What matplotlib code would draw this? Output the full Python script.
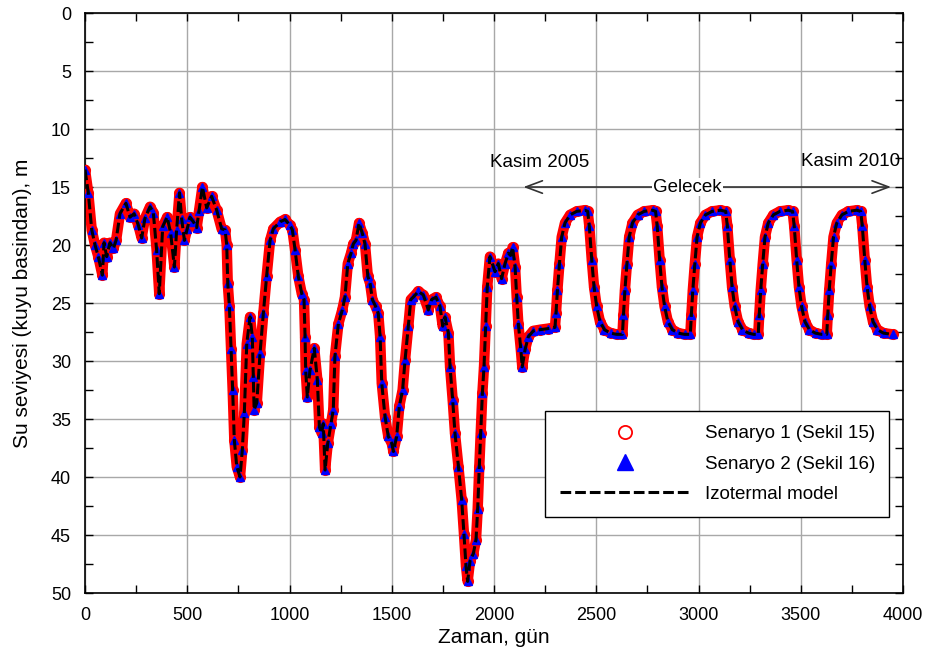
import numpy as np
import matplotlib
matplotlib.use('Agg')
import matplotlib.pyplot as plt
from matplotlib.lines import Line2D
from matplotlib.ticker import MultipleLocator

plt.rcParams['font.family'] = ['Liberation Sans', 'DejaVu Sans']

# Gozlem donemi (gun, su seviyesi m)
gun_gecmis = [0, 16, 33, 49, 65, 85, 93, 106, 122, 139, 152, 171, 200, 220, 240, 261,
              277, 293, 318, 334, 350, 363, 380, 402, 419, 437, 448, 462, 473, 486, 500,
              513, 530, 546, 557, 574, 595, 619, 644, 668, 685, 693, 698, 706, 714, 722,
              730, 742, 758, 769, 779, 791, 807, 818, 823, 827, 840, 856, 872, 888, 905,
              921, 954, 978, 1002, 1014, 1027, 1043, 1060, 1071, 1076, 1079, 1087, 1100,
              1121, 1136, 1146, 1157, 1165, 1174, 1187, 1203, 1214, 1222, 1239, 1258,
              1271, 1285, 1301, 1312, 1325, 1340, 1356, 1369, 1383, 1394, 1405, 1421,
              1434, 1443, 1451, 1467, 1483, 1500, 1508, 1524, 1537, 1553, 1565, 1581,
              1593, 1605, 1630, 1654, 1679, 1695, 1716, 1736, 1749, 1760, 1777, 1785,
              1798, 1809, 1826, 1842, 1853, 1863, 1871, 1883, 1899, 1912, 1920, 1928,
              1935, 1943, 1951, 1959, 1967, 1980, 1997, 2005, 2021, 2037, 2054, 2070,
              2081, 2091, 2103, 2111, 2119, 2130, 2138, 2152, 2168, 2192, 2225, 2266]
seviye_gecmis = [13.5, 15.5, 18.7, 20.0, 21.0, 22.6, 19.8, 21.0, 19.8, 20.3, 19.6, 17.3,
                 16.4, 17.6, 17.3, 18.3, 19.4, 17.7, 16.7, 17.2, 20.4, 24.2, 18.4, 17.6,
                 19.0, 21.9, 18.7, 15.5, 17.8, 19.6, 18.6, 17.6, 18.0, 18.5, 17.1, 15.0,
                 16.8, 15.8, 17.0, 18.6, 18.7, 20.0, 23.3, 25.3, 29.0, 32.5, 36.8, 39.1,
                 40.0, 37.7, 34.5, 28.5, 26.2, 27.9, 31.4, 34.2, 33.6, 29.3, 25.9, 22.7,
                 19.6, 18.6, 18.0, 17.8, 18.3, 18.7, 20.4, 22.7, 24.2, 24.7, 27.9, 30.8,
                 33.1, 30.8, 28.9, 31.6, 35.7, 36.2, 35.4, 39.4, 37.1, 35.4, 34.2, 29.6,
                 26.8, 25.6, 24.5, 21.6, 20.7, 19.9, 19.6, 18.1, 19.0, 19.9, 22.7, 23.3,
                 24.7, 25.3, 25.9, 27.9, 31.9, 34.8, 36.5, 37.1, 37.8, 36.5, 33.9, 32.5,
                 29.9, 27.0, 24.7, 24.5, 24.0, 24.3, 25.6, 24.7, 24.5, 25.3, 27.0, 26.2,
                 27.6, 30.5, 33.4, 36.2, 39.1, 42.0, 44.9, 47.7, 49.0, 47.2, 46.6, 45.4,
                 42.8, 39.1, 36.2, 32.8, 30.5, 27.0, 23.6, 21.0, 21.9, 22.3, 21.6, 22.9,
                 21.6, 20.7, 20.9, 20.2, 21.9, 24.5, 26.8, 28.8, 30.5, 29.0, 27.9, 27.4,
                 27.3, 27.2]

# Tahmin donemi (Kasim 2005 - Kasim 2010)
gun_gelecek = [2298, 2303, 2310, 2320, 2331, 2347, 2372, 2404, 2445, 2458, 2466, 2478,
               2489, 2502, 2518, 2540, 2570, 2600, 2628,
               2633, 2640, 2650, 2661, 2677, 2702, 2734, 2775, 2790, 2798, 2810, 2821,
               2834, 2850, 2872, 2902, 2932, 2960,
               2965, 2972, 2982, 2993, 3009, 3034, 3066, 3107, 3133, 3141, 3153, 3164,
               3177, 3193, 3215, 3245, 3270, 3292,
               3297, 3304, 3314, 3325, 3341, 3366, 3398, 3439, 3460, 3468, 3480, 3491,
               3504, 3520, 3542, 3572, 3602, 3627,
               3632, 3639, 3649, 3660, 3676, 3701, 3733, 3774, 3793, 3801, 3813, 3824,
               3837, 3853, 3875, 3905, 3950]
seviye_gelecek = [27.1, 25.9, 23.9, 21.6, 19.3, 18.1, 17.4, 17.1, 17.0, 17.1, 18.4, 21.3,
                  23.6, 25.3, 26.6, 27.3, 27.6, 27.7, 27.7,
                  26.0, 23.9, 21.6, 19.3, 18.1, 17.4, 17.1, 17.0, 17.1, 18.4, 21.3, 23.6,
                  25.3, 26.6, 27.3, 27.6, 27.7, 27.7,
                  26.0, 23.9, 21.6, 19.3, 18.1, 17.4, 17.1, 17.0, 17.1, 18.4, 21.3, 23.6,
                  25.3, 26.6, 27.3, 27.6, 27.7, 27.7,
                  26.0, 23.9, 21.6, 19.3, 18.1, 17.4, 17.1, 17.0, 17.1, 18.4, 21.3, 23.6,
                  25.3, 26.6, 27.3, 27.6, 27.7, 27.7,
                  26.0, 23.9, 21.6, 19.3, 18.1, 17.4, 17.1, 17.0, 17.1, 18.4, 21.3, 23.6,
                  25.3, 26.6, 27.3, 27.6, 27.7]

gun = np.array(gun_gecmis + gun_gelecek)
senaryo1 = np.array(seviye_gecmis + seviye_gelecek)
senaryo2 = np.array(seviye_gecmis + seviye_gelecek)
izotermal = np.array(seviye_gecmis + seviye_gelecek)

fig = plt.figure(figsize=(9.26, 6.64), dpi=100)
ax = fig.add_axes([0.0918, 0.1069, 0.8834, 0.8735])

# Senaryo 1: dense red open circles -> thick red band + circles
ax.plot(gun, senaryo1, color='red', lw=7.5, solid_capstyle='round',
        solid_joinstyle='round', zorder=2)
ax.plot(gun, senaryo1, ls='none', marker='o', ms=5.5, mfc='white', mec='red',
        mew=2.5, zorder=3)
ax.plot(gun, senaryo2, ls='none', marker='^', ms=6, color='blue', mec='blue',
        zorder=4)
ax.plot(gun, izotermal, color='black', lw=2.2, ls=(0, (3.5, 1.3)), zorder=5)

ax.set_xlim(0, 4000)
ax.set_ylim(50, 0)
ax.xaxis.set_major_locator(MultipleLocator(500))
ax.xaxis.set_minor_locator(MultipleLocator(250))
ax.yaxis.set_major_locator(MultipleLocator(5))
ax.yaxis.set_minor_locator(MultipleLocator(2.5))
ax.tick_params(which='both', direction='in', top=True, right=True,
               labelsize=13, width=1, color='black')
ax.tick_params(which='major', length=6, pad=10)
ax.tick_params(which='minor', length=6)
ax.grid(True, which='major', color='#a8a8a8', lw=1, ls='-')
ax.set_axisbelow(True)
for s in ax.spines.values():
    s.set_linewidth(1.2)

ax.set_xlabel('Zaman, gün', fontsize=15, labelpad=3)
ax.set_ylabel('Su seviyesi (kuyu basindan), m', fontsize=15, labelpad=14)

# Gelecek donemi oku
ax.annotate('', xy=(2130, 15), xytext=(3955, 15),
            arrowprops=dict(arrowstyle='<->,head_length=1.2,head_width=0.45',
                            color='#333333', lw=1.2), zorder=6)
ax.text(2946, 15, 'Gelecek', fontsize=13.5, ha='center', va='center',
        bbox=dict(facecolor='white', edgecolor='none', pad=0.5), zorder=7)
ax.text(2225, 12.9, 'Kasim 2005', fontsize=13.5, ha='center', va='center', zorder=7)
ax.text(3745, 12.8, 'Kasim 2010', fontsize=13.5, ha='center', va='center', zorder=7)

handles = [
    Line2D([], [], ls='none', marker='o', ms=9.5, mfc='white', mec='red', mew=1.3),
    Line2D([], [], ls='none', marker='^', ms=11, color='blue'),
    Line2D([], [], color='black', lw=2.2, ls=(0, (3.5, 1.3))),
]
labels = ['Senaryo 1 (Sekil 15)', 'Senaryo 2 (Sekil 16)', 'Izotermal model']
leg = ax.legend(handles, labels, loc='lower right', bbox_to_anchor=(0.983, 0.131),
                borderaxespad=0, fontsize=13.5, numpoints=1, handlelength=7,
                handletextpad=0.75, labelspacing=0.7, borderpad=0.75,
                fancybox=False, framealpha=1, edgecolor='black')
leg.get_frame().set_linewidth(1)

fig.savefig('out.png', dpi=100)
